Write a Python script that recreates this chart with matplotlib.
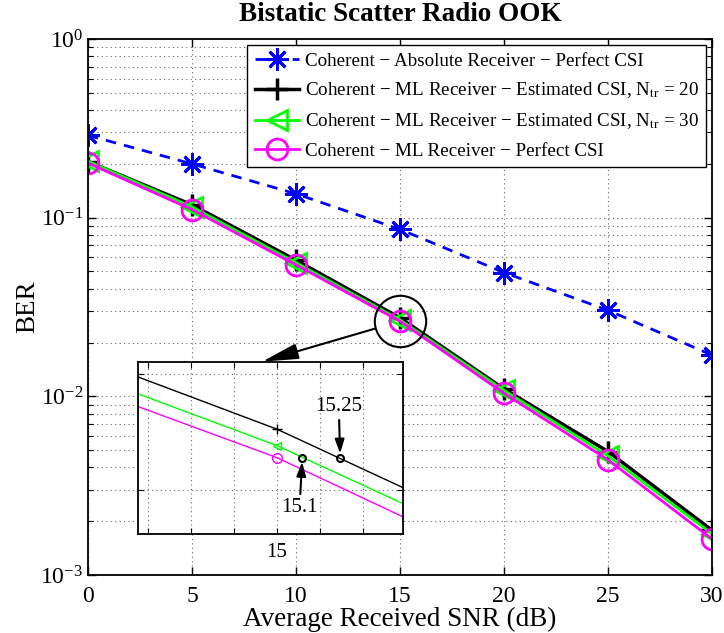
import numpy as np
import matplotlib
matplotlib.use('Agg')
import matplotlib.pyplot as plt
from matplotlib.ticker import FixedLocator, NullLocator, NullFormatter, LogLocator

plt.rcParams['font.family'] = ['Liberation Serif', 'DejaVu Serif']
plt.rcParams['mathtext.fontset'] = 'stix'

# data
snr = [0, 5, 10, 15, 20, 25, 30]
ber_abs = [0.289, 0.200, 0.136, 0.086, 0.0493, 0.0303, 0.0170]
ber_ml20 = [0.206, 0.118, 0.0578, 0.0275, 0.0110, 0.00491, 0.00178]
ber_ml30 = [0.207, 0.115, 0.0560, 0.0268, 0.0108, 0.00464, 0.00170]
ber_ml = [0.202, 0.111, 0.0544, 0.0263, 0.0104, 0.00441, 0.00159]
loss_snr = [15.1, 15.25]
loss_txt = ['15.1', '15.25']

labels = ['Coherent \u2212 Absolute Receiver \u2212 Perfect CSI',
          'Coherent \u2212 ML Receiver \u2212 Estimated CSI, N$_{\\mathrm{tr}}$ = 20',
          'Coherent \u2212 ML Receiver \u2212 Estimated CSI, N$_{\\mathrm{tr}}$ = 30',
          'Coherent \u2212 ML Receiver \u2212 Perfect CSI']

green = (0, 1, 0)
magenta = (1, 0, 1)
grid_style = dict(ls=(0, (1, 3)), color='0.4', lw=0.8)

fig = plt.figure(figsize=(7.24, 6.33), dpi=100)
ax = fig.add_axes([0.1215, 0.0916, 0.862, 0.8468])

ax.semilogy(snr, ber_abs, '--', color='b', marker=(8, 2, 0), ms=16, mew=2, lw=2,
            dashes=(3.8, 2.9), label=labels[0])
ax.semilogy(snr, ber_ml20, '-', color='k', marker='+', ms=16, mew=2.5, lw=2.5, label=labels[1])
ax.semilogy(snr, ber_ml30, '-', color=green, marker='<', ms=14, mfc='none', mew=2, lw=2,
            label=labels[2])
ax.semilogy(snr, ber_ml, '-', color=magenta, marker='o', ms=15, mfc='none', mew=2, lw=2,
            label=labels[3])

# zoom circle
ax.plot(snr[3], ber_ml[3], 'o', ms=37, mfc='none', mec='k', mew=1.5, zorder=6)

ax.set_xlim(0, 30)
ax.set_ylim(1e-3, 1)
ax.set_xticks(snr)
ax.yaxis.set_minor_locator(LogLocator(base=10, subs=np.arange(2, 10)))
ax.yaxis.set_minor_formatter(NullFormatter())
ax.tick_params(which='both', direction='in', top=True, right=True, labelsize=17)
ax.tick_params(which='major', length=6, width=1)
ax.tick_params(which='minor', length=3.5, width=0.8)
ax.tick_params(axis='x', pad=8)
ax.grid(True, which='major', **grid_style)
ax.grid(True, which='minor', axis='y', **grid_style)
for s in ax.spines.values():
    s.set_linewidth(1.3)

ax.set_xlabel('Average Received SNR (dB)', fontsize=19.5, labelpad=0)
ax.set_ylabel('BER', fontsize=19.5, labelpad=0)
ax.set_title('Bistatic Scatter Radio OOK', fontsize=19.5, fontweight='bold', pad=13)

leg = ax.legend(loc='upper right', bbox_to_anchor=(1.0, 1.0), borderaxespad=0.3,
                fontsize=13.7, handlelength=2.3, handletextpad=0.3, labelspacing=0.58,
                borderpad=0.4, fancybox=False, framealpha=1, edgecolor='k')
leg.get_frame().set_linewidth(1.0)

# inset
axins = fig.add_axes([0.191, 0.156, 0.366, 0.2727])
axins.semilogy(snr, ber_ml20, '-', color='k', marker='+', ms=7, mew=1, lw=1)
axins.semilogy(snr, ber_ml30, '-', color=green, marker='<', ms=6, mfc='none', mew=1, lw=1)
axins.semilogy(snr, ber_ml, '-', color=magenta, marker='o', ms=7, mfc='none', mew=1, lw=1)
axins.plot(loss_snr, [ber_ml[3]] * 2, 'o', ms=5, mfc='none', mec='k', mew=1.5)
axins.set_xlim(14.45, 15.5)
axins.set_ylim(0.02333, 0.03057)
inset_xt = 15 + 0.17 * np.arange(-3, 3)
axins.xaxis.set_major_locator(FixedLocator(inset_xt))
axins.set_xticklabels(['15' if abs(t - 15) < 1e-6 else '' for t in inset_xt])
axins.yaxis.set_major_locator(FixedLocator([0.025, 0.03]))
axins.yaxis.set_minor_locator(NullLocator())
axins.yaxis.set_major_formatter(NullFormatter())
axins.yaxis.set_minor_formatter(NullFormatter())
axins.tick_params(which='both', direction='in', top=True, right=True, labelsize=15,
                  length=4, pad=6)
axins.grid(True, **grid_style)
for s in axins.spines.values():
    s.set_linewidth(1.3)

arrow_small = dict(arrowstyle='-|>,head_length=0.6,head_width=0.2',
                   mutation_scale=14, color='k', lw=1.5, shrinkA=1, shrinkB=3)
axins.annotate(loss_txt[1], xy=(loss_snr[1], ber_ml[3]), xytext=(-1, 37),
               textcoords='offset points', ha='center', va='center', fontsize=15,
               arrowprops=arrow_small)
axins.annotate(loss_txt[0], xy=(loss_snr[0], ber_ml[3]), xytext=(-2, -36),
               textcoords='offset points', ha='center', va='center', fontsize=15,
               arrowprops=arrow_small)

# arrow from zoom circle to inset
ax.annotate('', xy=(0.467, 1.0), xycoords=axins.transAxes,
            xytext=(snr[3], ber_ml[3]), textcoords='data',
            arrowprops=dict(arrowstyle='-|>,head_length=1.4,head_width=0.3',
                            mutation_scale=16, color='k', lw=1.5, shrinkA=19, shrinkB=0),
            zorder=7)

fig.savefig('out.png', dpi=100)
